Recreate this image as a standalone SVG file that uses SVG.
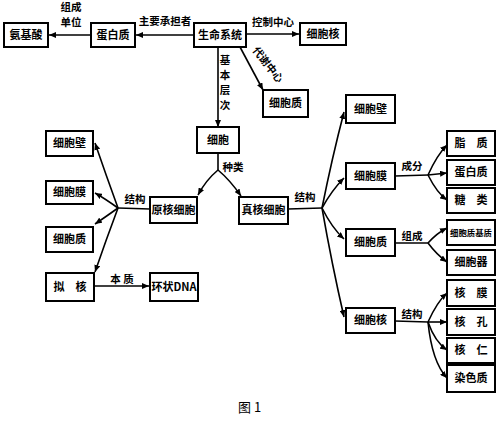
<svg xmlns="http://www.w3.org/2000/svg" width="500" height="425" viewBox="0 0 500 425">
<defs>
<marker id="ah" markerUnits="userSpaceOnUse" markerWidth="7" markerHeight="6" refX="7" refY="3" orient="auto">
<path d="M0,0 L7,3 L0,6 z" fill="#000"/>
</marker>
<style>
.box{fill:#fff;stroke:#000;stroke-width:2}
.t{font-family:"Noto Sans CJK SC","Noto Sans",sans-serif;font-size:11px;font-weight:bold;text-anchor:middle;fill:#000}
.l{font-family:"Noto Sans CJK SC","Noto Sans",sans-serif;font-size:10.5px;font-weight:bold;text-anchor:middle;fill:#000}
.c{fill:none;stroke:#000;stroke-width:1.6}
.ca{fill:none;stroke:#000;stroke-width:1.6;marker-end:url(#ah)}
.cap{font-family:"Noto Sans CJK SC","Noto Sans",sans-serif;font-size:13px;fill:#000}
</style>
</defs>
<rect width="500" height="425" fill="#fff"/>

<g id="connectors">
<line class="ca" x1="194" y1="35" x2="136" y2="35"/>
<line class="ca" x1="91" y1="35" x2="49" y2="35"/>
<line class="ca" x1="246" y1="34" x2="299" y2="34"/>
<line class="ca" x1="218" y1="47" x2="218" y2="127"/>
<line class="ca" x1="240" y1="47" x2="263" y2="90"/>
<line class="c" x1="218" y1="153" x2="218" y2="170"/>
<path class="ca" d="M218,170 Q206,180 198,195"/>
<path class="ca" d="M218,170 Q230,180 241,196"/>
<line class="c" x1="150" y1="209" x2="118" y2="208"/>
<path class="ca" d="M118,208 Q106,175 95,143"/>
<path class="ca" d="M118,208 Q104,198 95,193"/>
<path class="ca" d="M118,208 Q104,218 95,224"/>
<path class="ca" d="M118,208 Q106,240 95,272"/>
<line class="ca" x1="94" y1="286" x2="149" y2="286"/>
<line class="c" x1="288" y1="209" x2="322" y2="208"/>
<path class="ca" d="M322,208 Q332,158 344,112"/>
<path class="ca" d="M322,208 Q332,190 344,178"/>
<path class="ca" d="M322,208 Q332,228 344,239"/>
<path class="ca" d="M322,208 Q332,265 344,317"/>
<line class="c" x1="395" y1="176" x2="428" y2="175"/>
<path class="ca" d="M428,175 Q437,155 447,145"/>
<line class="ca" x1="428" y1="175" x2="447" y2="173"/>
<path class="ca" d="M428,175 Q437,193 447,200"/>
<line class="c" x1="395" y1="243" x2="428" y2="243"/>
<path class="ca" d="M428,243 Q437,233 447,228"/>
<path class="ca" d="M428,243 Q437,255 447,262"/>
<line class="c" x1="395" y1="321" x2="428" y2="322"/>
<path class="ca" d="M428,322 Q437,302 447,293"/>
<line class="ca" x1="428" y1="322" x2="447" y2="322"/>
<path class="ca" d="M428,322 Q435,342 447,350"/>
<path class="ca" d="M428,322 Q432,362 447,378"/>
</g>

<g id="labels">
<text class="l" x="71" y="11">组成</text>
<text class="l" x="71" y="26">单位</text>
<text class="l" x="165" y="25">主要承担者</text>
<text class="l" x="273" y="26">控制中心</text>
<text class="l" x="225" y="64">基</text>
<text class="l" x="225" y="79">本</text>
<text class="l" x="225" y="94">层</text>
<text class="l" x="225" y="109">次</text>
<text class="l" transform="translate(265,67) rotate(52)">代谢中心</text>
<text class="l" x="233" y="171">种类</text>
<text class="l" x="135" y="203">结构</text>
<text class="l" x="122" y="283">本 质</text>
<text class="l" x="305" y="201">结构</text>
<text class="l" x="412" y="170">成分</text>
<text class="l" x="412" y="240">组成</text>
<text class="l" x="412" y="318">结构</text>
</g>

<g id="n-anjisuan"><rect class="box" x="4" y="23" width="44" height="24"/><text class="t" x="26" y="39">氨基酸</text></g>
<g id="n-danbaizhi"><rect class="box" x="91" y="23" width="44" height="24"/><text class="t" x="113" y="39">蛋白质</text></g>
<g id="n-shengming"><rect class="box" x="194" y="23" width="52" height="24"/><text class="t" x="220" y="39">生命系统</text></g>
<g id="n-xibaohe-top"><rect class="box" x="300" y="23" width="46" height="22"/><text class="t" x="323" y="38">细胞核</text></g>
<g id="n-xibaozhi-top"><rect class="box" x="263" y="90" width="45" height="27"/><text class="t" x="285.5" y="107">细胞质</text></g>
<g id="n-xibao"><rect class="box" x="197" y="127" width="42" height="26"/><text class="t" x="218" y="144">细胞</text></g>
<g id="n-yuanhe"><rect class="box" x="150" y="197" width="47" height="26"/><text class="t" x="173.5" y="214">原核细胞</text></g>
<g id="n-zhenhe"><rect class="box" x="239" y="197" width="49" height="27"/><text class="t" x="263.5" y="214">真核细胞</text></g>
<g id="n-l-bi"><rect class="box" x="46" y="131" width="47" height="25"/><text class="t" x="69.5" y="147">细胞壁</text></g>
<g id="n-l-mo"><rect class="box" x="46" y="181" width="47" height="23"/><text class="t" x="69.5" y="196">细胞膜</text></g>
<g id="n-l-zhi"><rect class="box" x="46" y="227" width="47" height="25"/><text class="t" x="69.5" y="243">细胞质</text></g>
<g id="n-l-nihe"><rect class="box" x="46" y="273" width="48" height="28"/><text class="t" x="70" y="291">拟　核</text></g>
<g id="n-dna"><rect class="box" x="150" y="273" width="48" height="28"/><text class="t" x="174" y="291">环状DNA</text></g>
<g id="n-r-bi"><rect class="box" x="346" y="95" width="49" height="28"/><text class="t" x="370.5" y="113">细胞壁</text></g>
<g id="n-r-mo"><rect class="box" x="346" y="163" width="49" height="26"/><text class="t" x="370.5" y="180">细胞膜</text></g>
<g id="n-r-zhi"><rect class="box" x="346" y="229" width="49" height="27"/><text class="t" x="370.5" y="246">细胞质</text></g>
<g id="n-r-he"><rect class="box" x="346" y="308" width="49" height="25"/><text class="t" x="370.5" y="324">细胞核</text></g>
<g id="n-zhizhi"><rect class="box" x="447" y="131" width="48" height="25"/><text class="t" x="471" y="147">脂　质</text></g>
<g id="n-dbz"><rect class="box" x="447" y="160" width="48" height="25"/><text class="t" x="471" y="176">蛋白质</text></g>
<g id="n-tanglei"><rect class="box" x="447" y="188" width="48" height="25"/><text class="t" x="471" y="204">糖　类</text></g>
<g id="n-jizhi"><rect class="box" x="447" y="220" width="48" height="25"/><text class="t" x="471" y="235.5" style="font-size:8.4px">细胞质基质</text></g>
<g id="n-qi"><rect class="box" x="447" y="250" width="48" height="25"/><text class="t" x="471" y="266">细胞器</text></g>
<g id="n-hemo"><rect class="box" x="447" y="280" width="48" height="26"/><text class="t" x="471" y="297">核　膜</text></g>
<g id="n-hekong"><rect class="box" x="447" y="309" width="48" height="26"/><text class="t" x="471" y="326">核　孔</text></g>
<g id="n-heren"><rect class="box" x="447" y="338" width="48" height="25"/><text class="t" x="471" y="354">核　仁</text></g>
<g id="n-ranse"><rect class="box" x="447" y="365" width="48" height="27"/><text class="t" x="471" y="382">染色质</text></g>

<text class="cap" x="238" y="412">图 1</text>
</svg>
